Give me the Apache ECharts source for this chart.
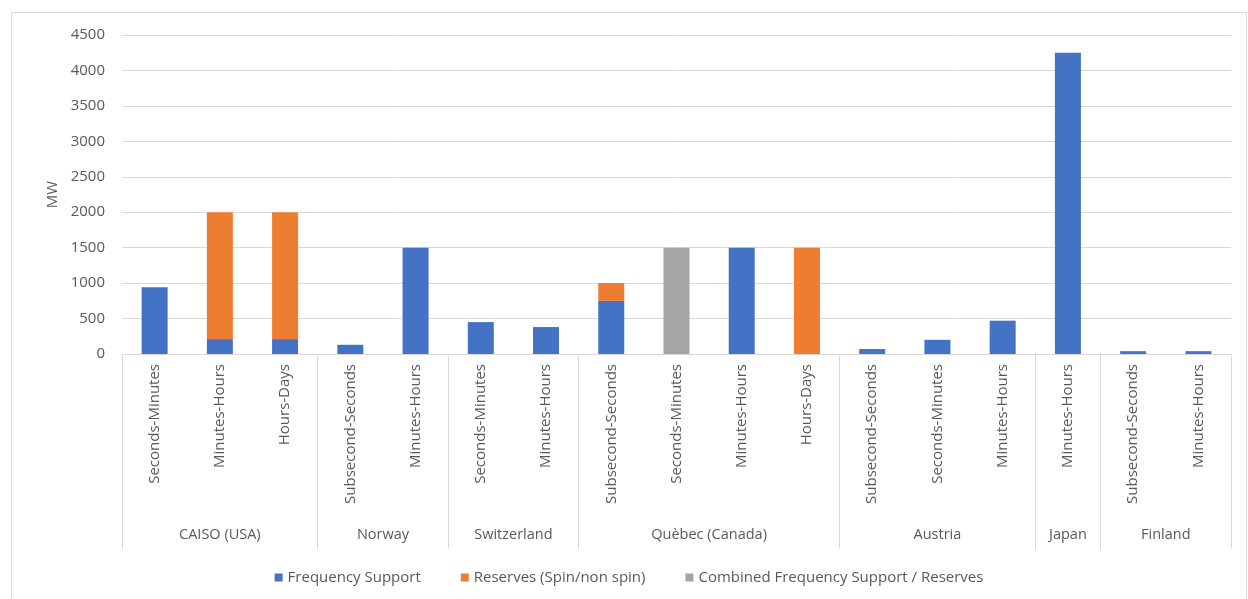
<!DOCTYPE html>
<html>
<head>
<meta charset="utf-8">
<script src="https://cdn.jsdelivr.net/npm/echarts@6/dist/echarts.min.js"></script>
<style>
  html, body { margin: 0; padding: 0; background: #fff; }
  #chart { position: absolute; left: 11px; top: 12px; width: 1236px; height: 588px;
           border: 1px solid #d9d9d9; box-sizing: border-box; }
</style>
</head>
<body>
<div id="chart"></div>
<script>
// sub-categories (time scale) and their groups (region)
var periods = ['Seconds-Minutes', 'Minutes-Hours', 'Hours-Days',
  'Subsecond-Seconds', 'Minutes-Hours',
  'Seconds-Minutes', 'Minutes-Hours',
  'Subsecond-Seconds', 'Seconds-Minutes', 'Minutes-Hours', 'Hours-Days',
  'Subsecond-Seconds', 'Seconds-Minutes', 'Minutes-Hours',
  'Minutes-Hours',
  'Subsecond-Seconds', 'Minutes-Hours'];
var regions = ['CAISO (USA)', 'Norway', 'Switzerland', 'Quèbec (Canada)', 'Austria', 'Japan', 'Finland'];
var regionSizes = [3, 2, 2, 4, 3, 1, 2];

var freqSupport = [940, 210, 210, 130, 1500, 450, 380, 750, 0, 1500, 0, 70, 200, 470, 4250, 40, 40];
var reserves    = [0, 1790, 1790, 0, 0, 0, 0, 250, 0, 0, 1500, 0, 0, 0, 0, 0, 0];
var combined    = [0, 0, 0, 0, 0, 0, 0, 0, 1500, 0, 0, 0, 0, 0, 0, 0, 0];

var yTicks = { min: 0, max: 4500, step: 500 };

// group boundaries and centers on a 0..N value scale
var bounds = [0], centers = [], nameAt = {};
regionSizes.forEach(function (n, i) {
  var start = bounds[bounds.length - 1];
  bounds.push(start + n);
  var c = start + n / 2;
  centers.push(c);
  nameAt[c] = regions[i];
});

var txt = '#595959';
var font = 'Open Sans';

var chart = echarts.init(document.getElementById('chart'));
chart.setOption({
  textStyle: { fontFamily: font },
  grid: { left: 110, right: 15, top: 22, bottom: 245 },
  legend: {
    bottom: 9,
    left: 'center',
    itemWidth: 8, itemHeight: 8, itemGap: 40,
    icon: 'rect',
    textStyle: { color: txt, fontSize: 15, fontFamily: font },
    data: ['Frequency Support', 'Reserves (Spin/non spin)', 'Combined Frequency Support / Reserves']
  },
  xAxis: [{
    type: 'category',
    data: periods,
    axisLine: { lineStyle: { color: '#d9d9d9' } },
    axisTick: { show: false },
    axisLabel: { rotate: 90, color: txt, fontSize: 15, margin: 10, interval: 0 }
  }, {
    type: 'value',
    position: 'bottom',
    min: 0, max: periods.length,
    axisLine: { show: false },
    splitLine: { show: false },
    axisTick: { show: true, customValues: bounds, length: 195, lineStyle: { color: '#d9d9d9' } },
    axisLabel: {
      customValues: centers, color: txt, fontSize: 14.5, margin: 173,
      formatter: function (v) { return nameAt[v] || ''; }
    }
  }],
  yAxis: {
    type: 'value',
    min: yTicks.min, max: yTicks.max, interval: yTicks.step,
    name: 'MW', nameLocation: 'middle', nameGap: 62,
    nameTextStyle: { color: txt, fontSize: 15 },
    axisLine: { show: false },
    axisTick: { show: false },
    axisLabel: { color: txt, fontSize: 15, margin: 17, formatter: function (v) { return String(v); } },
    splitLine: { lineStyle: { color: '#d9d9d9' } }
  },
  series: [{
    name: 'Frequency Support', type: 'bar', stack: 'mw', barWidth: 26,
    itemStyle: { color: '#4472C4' },
    data: freqSupport
  }, {
    name: 'Reserves (Spin/non spin)', type: 'bar', stack: 'mw', barWidth: 26,
    itemStyle: { color: '#ED7D31' },
    data: reserves
  }, {
    name: 'Combined Frequency Support / Reserves', type: 'bar', stack: 'mw', barWidth: 26,
    itemStyle: { color: '#A5A5A5' },
    data: combined
  }]
});
</script>
</body>
</html>
